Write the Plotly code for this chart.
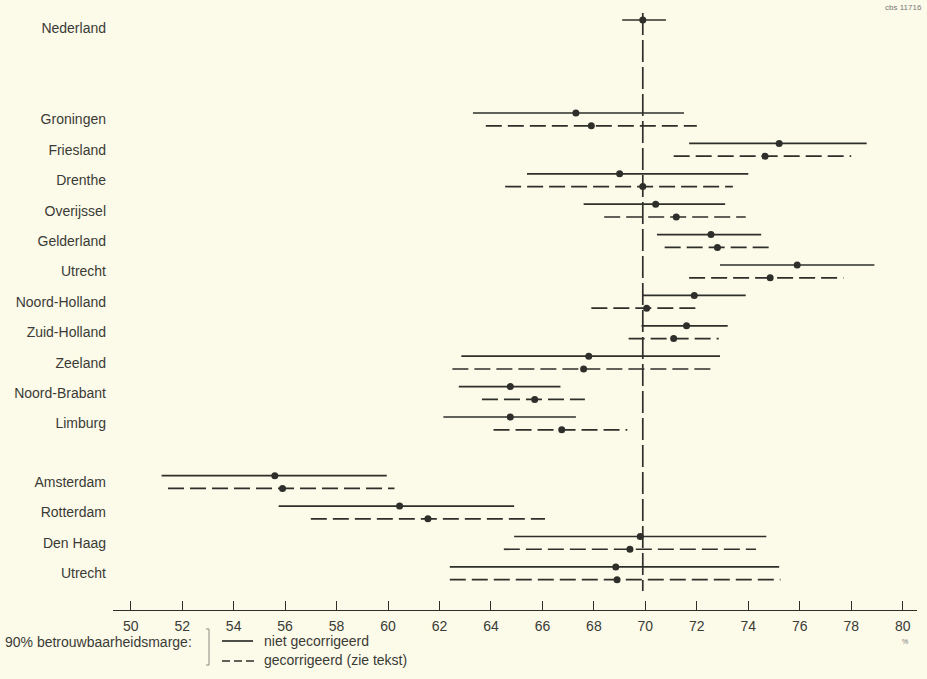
import plotly.graph_objects as go

# ---------------- data ----------------
national_label = "Nederland"
national = (69.1, 69.9, 70.8)  # low, point, high

provinces = ["Groningen", "Friesland", "Drenthe", "Overijssel", "Gelderland", "Utrecht",
             "Noord-Holland", "Zuid-Holland", "Zeeland", "Noord-Brabant", "Limburg"]
cities = ["Amsterdam", "Rotterdam", "Den Haag", "Utrecht"]

# niet gecorrigeerd (solid)
solid_low = [63.3, 71.7, 65.4, 67.6, 70.45, 72.9, 69.9, 69.85, 62.85, 62.75, 62.15,
             51.2, 55.75, 64.9, 62.4]
solid_pt = [67.3, 75.2, 69.0, 70.4, 72.55, 75.9, 71.9, 71.6, 67.8, 64.75, 64.75,
            55.6, 60.45, 69.8, 68.85]
solid_high = [71.5, 78.6, 74.0, 73.1, 74.5, 78.9, 73.9, 73.2, 72.9, 66.7, 67.3,
              59.95, 64.9, 74.7, 75.2]

# gecorrigeerd (dashed)
dash_low = [63.8, 71.1, 64.55, 68.4, 70.75, 71.7, 67.9, 69.35, 62.5, 63.65, 64.1,
            51.45, 57.0, 64.5, 62.4]
dash_pt = [67.9, 74.65, 69.9, 71.2, 72.8, 74.85, 70.05, 71.1, 67.6, 65.7, 66.75,
           55.9, 61.55, 69.4, 68.9]
dash_high = [72.0, 78.0, 73.4, 73.9, 74.8, 77.7, 72.15, 72.85, 72.55, 67.65, 69.3,
             60.25, 66.1, 74.3, 75.25]

x_ticks = list(range(50, 81, 2))

# ---------------- layout helpers ----------------
W, H = 927, 679
ML, MR, MT, MB = 113, 10, 5, 69
PW, PH = W - ML - MR, H - MT - MB
INK = "#2e2f2a"
TXT = "#3a3a36"
BG = "#fcfae9"
FONT = "Liberation Sans, Arial, sans-serif"


def px(x):
    return (x - ML) / PW


def py(y):
    return (H - MB - y) / PH


labels = provinces + cities
slots = [3.27 + i for i in range(len(provinces))] + [15.2 + i for i in range(len(cities))]
off = 0.21

fig = go.Figure()


def seg_xy(lows, highs, ys):
    xs, yy = [], []
    for lo, hi, y in zip(lows, highs, ys):
        xs += [lo, hi, None]
        yy += [y, y, None]
    return xs, yy


ys_solid = [s - off for s in slots]
ys_dash = [s + off for s in slots]

xs, yy = seg_xy([national[0]] + solid_low, [national[2]] + solid_high, [0] + ys_solid)
fig.add_trace(go.Scatter(x=xs, y=yy, mode="lines", line=dict(color=INK, width=1.7),
                         name="niet gecorrigeerd", showlegend=False, hoverinfo="skip"))
xs, yy = seg_xy(dash_low, dash_high, ys_dash)
fig.add_trace(go.Scatter(x=xs, y=yy, mode="lines",
                         line=dict(color=INK, width=1.7, dash="16px,6px"),
                         name="gecorrigeerd", showlegend=False, hoverinfo="skip"))
fig.add_trace(go.Scatter(x=[national[1]] + solid_pt + dash_pt,
                         y=[0] + ys_solid + ys_dash, mode="markers",
                         marker=dict(color=INK, size=7), showlegend=False))

# reference line at national value
fig.add_shape(type="line", xref="x", yref="y", x0=national[1], x1=national[1],
              y0=-0.23, y1=18.78, line=dict(color=INK, width=1.7, dash="22px,5px"))

# ---------------- legend (manual) ----------------
fig.add_annotation(xref="paper", yref="paper", x=px(3), y=py(642), xanchor="left",
                   yanchor="middle", text="90% betrouwbaarheidsmarge:", showarrow=False,
                   font=dict(size=14, color=TXT, family=FONT))
fig.add_shape(type="path", xref="paper", yref="paper",
              path=f"M {px(206)} {py(629)} L {px(209)} {py(629)} L {px(209)} {py(665)} L {px(206)} {py(665)}",
              line=dict(color="#8a8a80", width=1))
fig.add_shape(type="line", xref="paper", yref="paper", x0=px(222), x1=px(253),
              y0=py(641), y1=py(641), line=dict(color=INK, width=1.7))
fig.add_shape(type="line", xref="paper", yref="paper", x0=px(222), x1=px(255),
              y0=py(661), y1=py(661), line=dict(color=INK, width=1.7, dash="8px,4px"))
fig.add_annotation(xref="paper", yref="paper", x=px(262), y=py(641), xanchor="left",
                   yanchor="middle", text="niet gecorrigeerd", showarrow=False,
                   font=dict(size=14, color=TXT, family=FONT))
fig.add_annotation(xref="paper", yref="paper", x=px(262), y=py(660), xanchor="left",
                   yanchor="middle", text="gecorrigeerd (zie tekst)", showarrow=False,
                   font=dict(size=14, color=TXT, family=FONT))
fig.add_annotation(xref="paper", yref="paper", x=px(905), y=py(641), xanchor="center",
                   yanchor="middle", text="%", showarrow=False,
                   font=dict(size=7, color="#777", family=FONT))
fig.add_annotation(xref="paper", yref="paper", x=px(924), y=py(8), xanchor="right",
                   yanchor="middle", text="cbs 11716", showarrow=False,
                   font=dict(size=8, color="#777", family=FONT))

y0_slot = -15 / 30.4
y1_slot = 590 / 30.4

fig.update_layout(
    width=W, height=H,
    margin=dict(l=ML, r=MR, t=MT, b=MB),
    paper_bgcolor=BG, plot_bgcolor=BG,
    font=dict(family=FONT, color=TXT, size=14),
    showlegend=False,
    xaxis=dict(range=[50 - 17.7 / 25.73, 80 + 14.3 / 25.73], tickvals=x_ticks,
               ticks="inside", ticklen=9, tickwidth=1.2, tickcolor=INK,
               showline=True, linecolor=INK, linewidth=1.2, showgrid=False,
               zeroline=False, tickfont=dict(size=14, color=TXT),
               ticklabelstandoff=3),
    yaxis=dict(range=[y1_slot, y0_slot], tickvals=[0.26] + slots,
               ticktext=[national_label] + labels, ticks="", showline=False,
               showgrid=False, zeroline=False, ticklabelstandoff=6,
               tickfont=dict(size=14, color=TXT)),
)

fig.write_html(
    "out.html",
    config={"displayModeBar": False},
    post_script="document.body.style.margin='0';document.body.style.overflow='hidden';"
                "document.body.style.background='" + BG + "';",
)
